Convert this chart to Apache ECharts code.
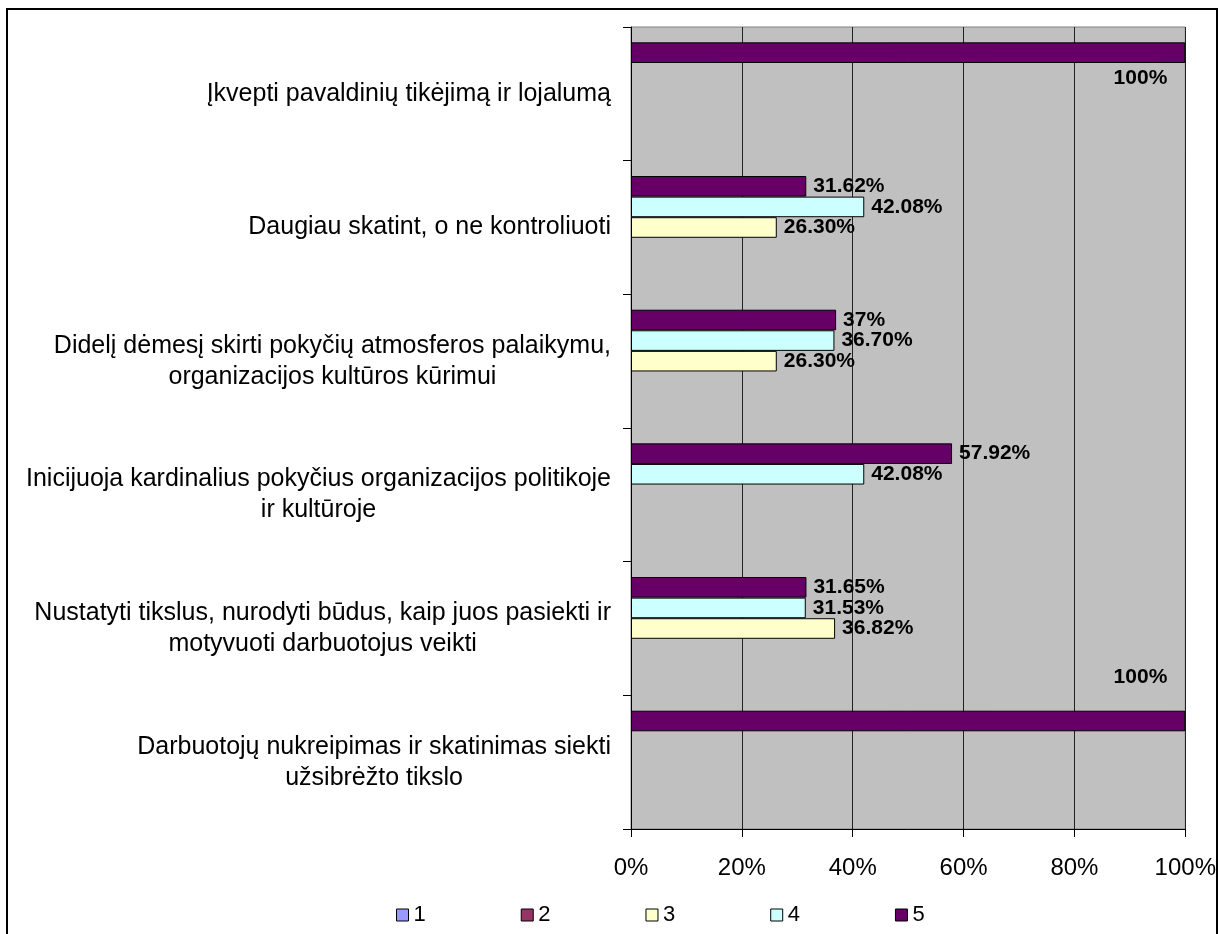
<!DOCTYPE html>
<html>
<head>
<meta charset="utf-8">
<script src="https://cdn.jsdelivr.net/npm/echarts@6/dist/echarts.min.js"></script>
<style>
html,body{margin:0;padding:0;background:#fff;}
#chart{width:1219px;height:934px;}
</style>
</head>
<body>
<div id="chart"></div>
<script>
// ---- data (top-to-bottom category order) ----
const categories = [
  'Įkvepti pavaldinių tikėjimą ir lojalumą',
  'Daugiau skatint, o ne kontroliuoti',
  'Didelį dėmesį skirti pokyčių atmosferos palaikymu,\norganizacijos kultūros kūrimui',
  'Inicijuoja kardinalius pokyčius organizacijos politikoje\nir kultūroje',
  'Nustatyti tikslus, nurodyti būdus, kaip juos pasiekti ir\nmotyvuoti darbuotojus veikti',
  'Darbuotojų nukreipimas ir skatinimas siekti\nužsibrėžto tikslo'
];
const seriesNames = ['1', '2', '3', '4', '5'];
const values1 = [null, null, null, null, null, null];
const values2 = [null, null, null, null, null, null];
const values3 = [null, 26.30, 26.30, null, 36.82, null];
const values4 = [null, 42.08, 36.70, 42.08, 31.53, null];
const values5 = [100, 31.62, 37, 57.92, 31.65, 100];
const xTicks = [0, 20, 40, 60, 80, 100];

const colors = {'1': '#9999FF', '2': '#993366', '3': '#FFFFCC', '4': '#CCFFFF', '5': '#660066'};
const FONT = '"Liberation Sans", Arial, sans-serif';

function fmt(v) {
  return (Math.round(v) === v ? String(v) : v.toFixed(2)) + '%';
}

// special placement for the two full-length bars
const fullBarLabel = {
  0: {position: 'insideRight', distance: 18, offset: [0, 26]},
  5: {position: 'insideRight', distance: 18, offset: [0, -44]}
};

function makeData(vals, isTop) {
  return vals.map((v, i) => {
    if (v == null) return null;
    const item = {value: v};
    if (isTop && fullBarLabel[i]) item.label = fullBarLabel[i];
    return item;
  });
}

const allValues = {'1': values1, '2': values2, '3': values3, '4': values4, '5': values5};
const order = ['5', '4', '3', '2', '1'];

const series = order.map(name => ({
  name: name,
  type: 'bar',
  barGap: '0%',
  barCategoryGap: '23%',
  data: makeData(allValues[name], name === '5'),
  itemStyle: {color: colors[name], borderColor: '#000', borderWidth: 1},
  label: {
    show: true,
    position: 'right',
    distance: 7,
    color: '#000',
    fontFamily: FONT,
    fontWeight: 'bold',
    fontSize: 21,
    formatter: p => fmt(p.value)
  },
  emphasis: {disabled: true},
  animation: false
}));

const option = {
  animation: false,
  backgroundColor: '#fff',
  graphic: [{
    type: 'rect',
    shape: {x: 7, y: 9, width: 1210, height: 940},
    style: {fill: 'none', stroke: '#000', lineWidth: 2},
    silent: true
  }],
  grid: {
    left: 631, right: 33, top: 27, bottom: 105,
    show: true, backgroundColor: '#C0C0C0', borderColor: '#808080', borderWidth: 1
  },
  legend: {
    data: seriesNames,
    bottom: 3,
    left: 391,
    icon: 'rect',
    itemWidth: 12,
    itemHeight: 12,
    itemGap: 95,
    textStyle: {fontFamily: FONT, fontSize: 22, color: '#000'},
    itemStyle: {borderColor: '#000', borderWidth: 1}
  },
  xAxis: {
    type: 'value',
    min: xTicks[0],
    max: xTicks[xTicks.length - 1],
    interval: 20,
    axisLine: {show: true, lineStyle: {color: '#000', width: 1}},
    axisTick: {show: true, length: 8, lineStyle: {color: '#000'}},
    splitLine: {show: true, lineStyle: {color: '#222', width: 1}},
    axisLabel: {
      margin: 27,
      fontFamily: FONT, fontSize: 24, color: '#000',
      formatter: v => v + '%'
    }
  },
  yAxis: {
    type: 'category',
    inverse: true,
    data: categories,
    axisLine: {show: true, lineStyle: {color: '#000', width: 1}},
    axisTick: {show: true, length: 8, lineStyle: {color: '#000'}},
    splitLine: {show: false},
    axisLabel: {
      margin: 20,
      fontFamily: FONT, fontSize: 25, color: '#000',
      formatter: v => v.split('\n').map(l => '{c|' + l + '}').join('\n'),
      rich: {c: {align: 'center', fontFamily: FONT, fontSize: 25, lineHeight: 31, color: '#000'}}
    }
  },
  series: series
};

const chart = echarts.init(document.getElementById('chart'), null, {renderer: 'canvas'});
chart.setOption(option);
</script>
</body>
</html>
